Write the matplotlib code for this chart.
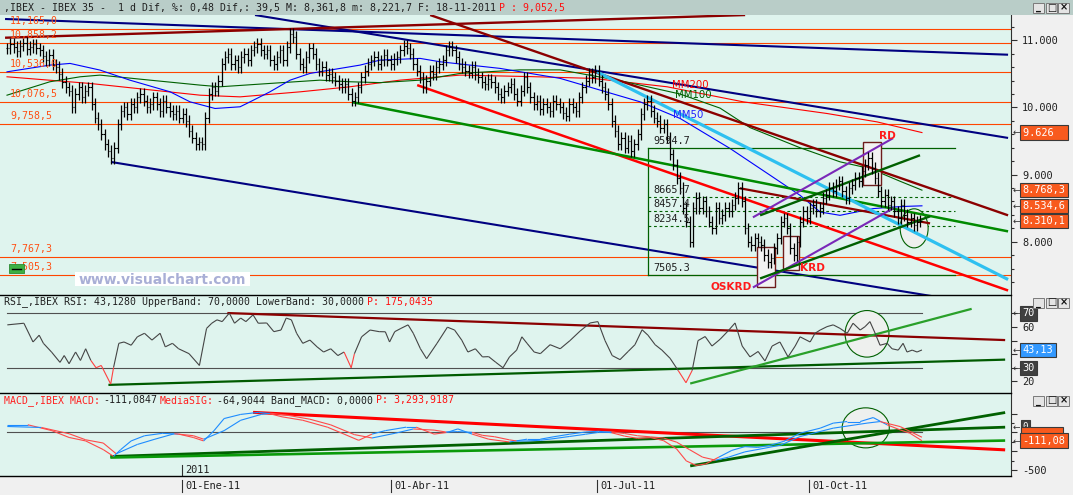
import numpy as np
import matplotlib
matplotlib.use("Agg")
import matplotlib.pyplot as plt
from matplotlib.patches import Rectangle, Ellipse
from matplotlib.lines import Line2D
from matplotlib.collections import LineCollection
from matplotlib.transforms import blended_transform_factory as blend

# ── Data (x = trading-bar index, bar 0 ~ mid-Oct 2010, last bar 18-11-2011) ──

close = [
    10880, 10950, 10900, 10840, 10920, 10960, 10870, 10900, 10940, 10880,
    10850, 10760, 10700, 10780, 10640, 10600, 10500, 10380, 10300, 10250,
    10000, 10200, 10300, 10150, 10250, 10300, 10050, 9850, 9750, 9600,
    9450, 9350, 9250, 9400, 9750, 9950, 10000, 9900, 10050, 10000,
    10150, 10200, 10100, 10000, 10050, 10150, 10050, 9950, 10100, 10000,
    9950, 9900, 9950, 9850, 9900, 9800, 9650, 9550, 9450, 9480,
    9450, 9850, 10200, 10300, 10250, 10400, 10650, 10750, 10800, 10650,
    10700, 10600, 10750, 10800, 10700, 10850, 10900, 10950, 10850, 10800,
    10850, 10700, 10650, 10750, 10850, 10700, 10900, 11100, 11050, 10800,
    10650, 10600, 10750, 10880, 10800, 10650, 10550, 10600, 10480, 10500,
    10450, 10400, 10350, 10300, 10350, 10200, 10100, 10150, 10300, 10450,
    10550, 10650, 10700, 10750, 10650, 10700, 10780, 10700, 10650, 10720,
    10750, 10850, 10920, 10880, 10800, 10650, 10550, 10450, 10300, 10400,
    10550, 10500, 10600, 10650, 10700, 10850, 10900, 10850, 10750, 10650,
    10600, 10550, 10520, 10600, 10500, 10450, 10380, 10350, 10420, 10380,
    10300, 10200, 10150, 10250, 10300, 10350, 10200, 10100, 10250, 10450,
    10300, 10150, 10050, 10100, 9980, 10050, 10000, 9950, 10100, 10050,
    10000, 9920, 9880, 10050, 10000, 9950, 10150, 10300, 10400, 10500,
    10450, 10550, 10400, 10300, 10200, 10050, 9800, 9650, 9450, 9550,
    9400, 9500, 9350, 9450, 9600, 9900, 10050, 10100, 9950, 9850,
    9800, 9700, 9750, 9550, 9300, 9150, 8950, 8800, 8500, 8300,
    8000, 8500, 8650, 8500, 8600, 8450, 8300, 8200, 8500, 8350,
    8400, 8500, 8450, 8550, 8650, 8800, 8600, 8200, 8000, 7950,
    8050, 8000, 7950, 7800, 7700, 7750, 7900, 8050, 8300, 8350,
    8200, 7900, 7800, 8000, 8300, 8450, 8350, 8500, 8550, 8450,
    8500, 8650, 8700, 8800, 8750, 8850, 8900, 8750, 8650, 8800,
    8850, 8950, 8900, 9050, 9150, 9250, 9100, 8950, 8750, 8600,
    8700, 8550, 8600, 8450, 8350, 8550, 8400, 8300, 8350, 8250, 8300, 8310.1,
]

mm50_x = [0, 13.2, 19.4, 28.6, 37.8, 50.2, 56.3, 64, 71.7, 74.8, 80.9, 87.1, 93.2, 102.5,
          108.6, 114.8, 127.1, 133.2, 142.5, 151.7, 170.2, 194.8, 207.1, 222.5, 234.8,
          244, 250.2, 256.3, 266.5, 272.6, 276.9, 281.5]
mm50 = [10531, 10631, 10656, 10557, 10407, 10233, 10084, 9985, 10010, 10084, 10233, 10407,
        10507, 10582, 10631, 10706, 10731, 10681, 10631, 10582, 10433, 10084, 9836, 9388,
        8990, 8691, 8442, 8393, 8493, 8516, 8527, 8534.6]
mm100_x = [0, 13.2, 22.5, 28.6, 44, 59.4, 65.5, 80.9, 96.3, 105.5, 114.8, 127.1, 139.4,
           157.8, 170.2, 188.6, 207.1, 219.4, 228.6, 244, 256.3, 265.5, 274.8, 281.5]
mm100 = [10183, 10383, 10457, 10482, 10407, 10333, 10308, 10358, 10407, 10383, 10370, 10407,
         10507, 10560, 10560, 10400, 10200, 9990, 9700, 9400, 9190, 9090, 8900, 8768.3]
mm200_x = [0, 25.5, 59.4, 71.7, 90.2, 105.5, 120.9, 139.4, 160.9, 180.3, 203.1, 226.5,
           252.3, 267.7, 281.5]
mm200 = [10457, 10358, 10183, 10158, 10233, 10308, 10407, 10482, 10460, 10433, 10308,
         10084, 9910, 9785, 9626]

levels = [11165, 10955, 10533, 10076.5, 9750, 7767.3, 7505.3]
level_labels = ["11,165,0", "10,858,2", "10,536,0", "10,076,5", "9,758,5", "7,767,3", "7,505,3"]

# trend lines drawn on the price panel: (i0, v0, i1, v1)
price_lines = {
    "navy_top": (-0.6, 11318, 308, 10786),
    "navy_mid": (76.3, 11377, 308, 9546),
    "navy_low": (32, 9188, 308, 7004),
    "dkred_top": (-0.6, 11039, 227.1, 11377),
    "dkred_steep": (130.2, 11377, 308, 8393),
    "dkred_short": (225.5, 8796, 284, 8273),
    "red": (126.2, 10333, 308, 7273),
    "green": (106.2, 10079, 308, 8154),
    "cyan": (181.5, 10531, 308, 7437),
    "purple_up": (229.5, 8363, 272.6, 9542),
    "dkgreen_up": (231.7, 8393, 280.9, 9288),
    "purple_lo": (229.5, 7318, 272.6, 8497),
    "dkgreen_lo": (231.7, 7452, 284, 8378),
}

fib_span = (197.2, 291.7)
fib_levels = [9390, 8665.7, 8457.4, 8234.5, 7505.3]
fib_labels = ["9594.7", "8665.7", "8457.4", "8234.5", "7505.3"]

pattern_boxes = {  # (i0, i1, low, high)
    "OSKRD": (230.7, 236.3, 7322, 7919),
    "KRD": (238.6, 243.6, 7572, 8084),
    "RD": (263.5, 268.8, 8851, 9487),
}
pattern_text = {"OSKRD": (222.8, 7332), "KRD": (247.7, 7602), "RD": (270.8, 9572)}

rsi_x = [0.1, 5.2, 8.0, 9.9, 11.2, 13.7, 16.3, 17.6, 19.1, 21.1, 22.6, 24.2, 25.8, 27.4, 29.0,
         31.9, 32.8, 34.4, 36.0, 38.2, 40.1, 42.3, 44.6, 47.1, 48.7, 50.9, 52.8, 56.0, 59.2,
         61.4, 63.0, 64.6, 66.2, 68.4, 70.0, 71.9, 73.5, 75.7, 77.3, 79.9, 82.1, 84.3, 85.9,
         87.5, 89.1, 91.0, 93.2, 95.4, 97.4, 99.6, 101.8, 103.7, 105.9, 106.9, 109.1, 111.7,
         114.5, 116.4, 117.7, 119.3, 121.2, 123.4, 125.0, 127.2, 129.1, 132.3, 135.5, 137.7,
         139.9, 141.8, 144.1, 146.3, 148.2, 150.4, 152.6, 154.6, 156.8, 158.4, 160.0, 162.2,
         164.1, 167.1, 170.2, 173.2, 176.3, 179.4, 181.8, 184, 186.2, 188.6, 191.1, 193.2,
         195.4, 197.2, 199.4, 201.5, 204, 206.5, 208.9, 210.8, 212.6, 214.8, 216.9, 219.4,
         221.8, 224, 226.2, 228.6, 231.1, 233.2, 235.4, 237.8, 240.3, 242.5, 244, 247.1,
         248.6, 250.2, 252.3, 254.2, 256.3, 258.5, 260.3, 262.5, 264, 265.5, 267.1, 268.6,
         270.8, 272.3, 274.2, 275.7, 276.9, 278.5, 280, 281.5]
rsi = [61.6, 62.8, 49, 54, 48, 41.6, 34, 39, 33, 41.6, 35.4, 44, 35.4, 30, 31.7,
       18, 30.4, 48, 49, 46.6, 52.8, 55.4, 50.4, 55.4, 45.4, 48, 44, 40.4, 31.7,
       59, 62.8, 65.3, 64, 70.3, 62.8, 66.6, 64, 69, 62.8, 63, 56.6, 57.8, 66.6,
       65.3, 55.4, 48, 50.4, 45.4, 41.6, 44, 39, 41.6, 30, 40.4, 52.8, 57.8,
       56.6, 56.5, 49, 56.6, 59, 61.6, 55.4, 44, 36.7, 48, 59.9, 57.8,
       50.4, 41.6, 44, 38, 38.2, 34, 30, 38, 43, 52.8, 48, 41.6,
       40.4, 47, 44, 50, 57, 63, 64, 50, 39, 36, 42, 47,
       58, 54, 47, 43, 37, 28, 19, 28, 50, 53, 46, 51,
       57, 63, 46, 38, 42, 35, 46, 49, 38, 46, 52.8, 49,
       55.4, 57.8, 60.3, 61.6, 59, 55.4, 62.8, 57.8, 60.3, 64, 55.4, 46.6,
       48, 44, 43, 48, 41.6, 43, 41.6, 43.13]
rsi_red_spans = [(25.6, 32.8), (104.5, 107.0), (205.5, 211.0)]

rsi_lines = {
    "dkred": (67.8, 70.3, 307.1, 50.4),
    "dkgreen": (31.2, 17.4, 307.1, 36.0),
    "green": (210.2, 18.4, 296.8, 73.4),
}

macd_x = [0.1, 6.4, 13.8, 19.1, 24.2, 29.6, 32.8, 35.0, 38.2, 42.3, 47.8, 52.8, 57.3, 60.5,
          63.7, 66.8, 71.9, 77.3, 80.5, 84.6, 91.0, 98.6, 103.7, 108.2, 112.3, 116.4, 122.8,
          125.9, 131.4, 135.5, 138.7, 143.1, 148.2, 154.6, 160.0, 164.1, 168, 173, 178, 182,
          186, 190, 194, 198, 202, 206, 209, 212, 215, 219, 223, 227, 231, 235, 239, 244,
          250.2, 254.2, 258.5, 262.5, 266.5, 270.8, 274.8, 277.8, 281.5]
macd = [101, 101, 23, -68, -114, -229, -320, -229, -114, -45, -13, -23, -68, -114,
        23, 184, 239, 266, 252, 207, 161, 69, -23, -106, -23, 23, 69,
        69, -23, 0, 46, -23, -91, -128, -91, -91, -60, -25, 5, 15,
        -5, -50, -80, -70, -110, -220, -380, -440, -420, -330, -240, -190, -200, -170, -120, -11,
        56, 123, 144, 144, 197, 100, 33, -11, -111.08]
sig_x = [0.1, 10.6, 19.1, 24.2, 29.6, 33.6, 40.1, 45.5, 51.5, 57.3, 60.5, 66.8, 71.9, 78.3,
         81, 86, 93.2, 99.6, 106.9, 112.3, 119.6, 125, 131.4, 135, 138.7, 143.1, 146.3, 150,
         154.6, 156.8, 160, 164.1, 168, 173, 178, 182, 186, 190, 194, 198, 202, 206, 210,
         214, 218, 222, 227, 232, 238, 244, 254.2, 264.6, 268.6, 274.8, 281.5]
sig = [78, 65, -18, -99, -142, -285, -161, -91, -18, -44, -91, 23, 161, 240,
       255, 230, 175, 100, -30, -75, -10, 45, 30, 5, 10, 0, -40, -58,
       -100, -115, -114, -105, -85, -55, -25, 0, 5, -15, -45, -60, -75, -130, -230,
       -330, -370, -330, -260, -220, -170, -56, 56, 123, 144, 77, -64.9]

macd_lines = {
    "red": (75.7, 266, 307.1, -233),
    "dkgreen": (31.8, -321, 307.1, 69),
    "green": (31.8, -335, 307.1, -109),
    "dkgreen2": (210.2, -447, 307.1, 264),
}

date_ticks = [53.8, 118.1, 181.5, 246.9]
date_labels = ["01-Ene-11", "01-Abr-11", "01-Jul-11", "01-Oct-11"]

# ── Layout / style ────────────────────────────────────────────────────────────

W, H = 1073, 495
BG = "#dff4ee"
GREY = "#f0f0f0"
BAR = "#b9cdc8"
MONO = "DejaVu Sans Mono"
FS = 7.1

NAVY, DKRED, RED = "#000080", "#8b0000", "#ff0000"
GREEN, DKGREEN, CYAN, PURPLE = "#008a00", "#006000", "#2ec0f0", "#7a28b8"
ORANGE = "#ff4500"

line_style = {
    "navy_top": (NAVY, 1.5), "navy_mid": (NAVY, 1.5), "navy_low": (NAVY, 1.5),
    "dkred_top": (DKRED, 1.7), "dkred_steep": (DKRED, 1.7), "dkred_short": (DKRED, 1.6),
    "red": (RED, 1.8), "green": (GREEN, 1.8), "cyan": (CYAN, 2.3),
    "purple_up": (PURPLE, 1.5), "dkgreen_up": (DKGREEN, 1.7),
    "purple_lo": (PURPLE, 1.5), "dkgreen_lo": (DKGREEN, 1.7),
}

plt.rcParams["font.family"] = "DejaVu Sans"
fig = plt.figure(figsize=(W / 100, H / 100), dpi=100, facecolor=GREY)
renderer = fig.canvas.get_renderer()


def rect(x0, y0, x1, y1):
    return [x0 / W, 1 - y1 / H, (x1 - x0) / W, (y1 - y0) / H]


def ftext(x, y, s, **kw):
    return fig.text(x / W, 1 - y / H, s, **kw)


def fpatch(x0, y0, x1, y1, **kw):
    fig.add_artist(Rectangle((x0 / W, 1 - y1 / H), (x1 - x0) / W, (y1 - y0) / H,
                             transform=fig.transFigure, **kw))


def fline(x0, y0, x1, y1, **kw):
    fig.add_artist(Line2D([x0 / W, x1 / W], [1 - y0 / H, 1 - y1 / H],
                          transform=fig.transFigure, **kw))


def seg_text(x, y, parts):
    # coloured pieces of one header line, laid out by their measured width
    for s, c in parts:
        t = ftext(x, y, s, color=c, family=MONO, fontsize=FS, va="center")
        x += t.get_window_extent(renderer).width + 3


def buttons(y):
    for x0, g in [(1033, "_"), (1046, "□"), (1058, "×")]:
        fpatch(x0, y, x0 + 11, y + 10, fc="#e4e4e4", ec="#7a7a7a", lw=0.7)
        ftext(x0 + 5.5, y + 4.5, g, ha="center", va="center", fontsize=7, color="#111111",
              weight="bold")


XL = (-2.154, 308.9)


def setup(ax, ylim):
    ax.set_facecolor(BG)
    ax.set_xlim(*XL)
    ax.set_ylim(*ylim)
    ax.set_xticks([])
    for s in ["top", "bottom", "left"]:
        ax.spines[s].set_visible(False)
    ax.spines["right"].set_color("#303030")
    ax.yaxis.tick_right()


def right_ticks(ax, major, labels, minor):
    ax.set_yticks(major)
    ax.set_yticklabels(labels, family=MONO)
    ax.set_yticks(minor, minor=True)
    ax.tick_params(axis="y", which="major", direction="out", length=4, width=0.8,
                   color="#303030", labelsize=7.4, labelcolor="#202020", pad=4)
    ax.tick_params(axis="y", which="minor", direction="out", length=2.5, width=0.8,
                   color="#303030")


def value_box(ax, y, txt, fc, width=7, fs=7.4, arrow=True):
    tr = blend(ax.transAxes, ax.transData)
    if arrow:
        ax.text(1.0015, y, "←", transform=tr, ha="left", va="center", fontsize=6.5,
                color="#303030", clip_on=False)
    ax.text(1.0115, y, txt.ljust(width), transform=tr, ha="left", va="center", family=MONO,
            fontsize=fs, color="white", clip_on=False, zorder=10,
            bbox=dict(boxstyle="square,pad=0.22", fc=fc, ec="#3a3a3a", lw=0.8))


# ── Price panel ───────────────────────────────────────────────────────────────

ax = fig.add_axes(rect(0, 15, 1011, 294.5))
setup(ax, (7213.4, 11377.6))
right_ticks(ax, [8000, 9000, 10000, 11000], ["8.000", "9.000", "10.000", "11.000"],
            np.arange(7400, 11400, 200))

for v, lab in zip(levels, level_labels):
    ax.axhline(v, color=ORANGE, lw=0.8, zorder=1)
    ax.text(0.9, v + 118, lab, color="#ff5014", family=MONO, fontsize=FS, va="center",
            zorder=6)

for xs, ys, c in [(mm200_x, mm200, RED), (mm100_x, mm100, DKGREEN), (mm50_x, mm50, "#0000ff")]:
    ax.plot(xs, ys, color=c, lw=0.8, zorder=1.5)
ax.text(204.6, 10332, "MM200", color=RED, fontsize=7.3, va="center", zorder=6)
ax.text(205.5, 10183, "MM100", color=DKGREEN, fontsize=7.3, va="center", zorder=6)
ax.text(205.0, 9885, "MM50", color="#2020ff", fontsize=7.3, va="center", zorder=6)

for name, (i0, v0, i1, v1) in price_lines.items():
    c, lw = line_style[name]
    ax.plot([i0, i1], [v0, v1], color=c, lw=lw, solid_capstyle="butt",
            zorder=2.2 if c == NAVY else 3)

# fibonacci box
f0, f1 = fib_span
ax.plot([f0, f1], [fib_levels[0]] * 2, color=DKGREEN, lw=0.9, zorder=2.4)
ax.plot([f0, f1], [fib_levels[-1]] * 2, color=DKGREEN, lw=0.9, zorder=2.4)
ax.plot([f0, f0], [fib_levels[-1], fib_levels[0]], color=DKGREEN, lw=0.9, zorder=2.4)
for v in fib_levels[1:-1]:
    ax.plot([f0, f1], [v, v], color=DKGREEN, lw=0.8, ls=(0, (2.5, 2.5)), zorder=2.4)
for v, lab in zip(fib_levels, fib_labels):
    ax.text(f0 + 1.6, v + 108, lab, family=MONO, fontsize=7.4, color="#202020",
            va="center", zorder=6)

for name, (i0, i1, lo, hi) in pattern_boxes.items():
    ax.add_patch(Rectangle((i0, lo), i1 - i0, hi - lo, fc="#f2f2f2", ec="#6e1c1c",
                           lw=1.0, zorder=2.5))
    tx, ty = pattern_text[name]
    ax.text(tx, ty, name, color="#ff1a1a", fontsize=7.6, weight="bold", ha="center",
            va="center", zorder=7)
ax.add_patch(Ellipse((279.1, 8199), 8.6, 582, fc="#eef0ee", ec=DKGREEN, lw=0.8, zorder=2.5))

# OHLC bars
c_arr = np.array(close, dtype=float)
idx = np.arange(len(c_arr))
o_arr = np.concatenate([[c_arr[0]], c_arr[:-1]])
WICK = 85
hi_arr = np.maximum(o_arr, c_arr) + WICK
lo_arr = np.minimum(o_arr, c_arr) - WICK
ax.vlines(idx, lo_arr, hi_arr, color="black", lw=0.9, zorder=3.5)
ax.hlines(o_arr, idx - 0.45, idx, color="black", lw=0.8, zorder=3.5)
ax.hlines(c_arr, idx, idx + 0.45, color="black", lw=0.8, zorder=3.5)

value_box(ax, 9626, "9.626", "#f85a1e")
value_box(ax, 8768.3, "8.768,3", "#f85a1e")
value_box(ax, 8534.6, "8.534,6", "#f85a1e")
value_box(ax, 8310.1, "8.310,1", "#f85a1e")

# ── RSI panel ─────────────────────────────────────────────────────────────────

axr = fig.add_axes(rect(0, 294.5, 1011, 392.8))
setup(axr, (11.57, 83.96))
right_ticks(axr, [20, 30, 40, 50, 60, 70], ["20", "", "", "", "60", ""], [])
for lvl in (70, 30):
    axr.plot([0, 281.5], [lvl, lvl], color="#505050", lw=0.8, zorder=1)
for name, (i0, v0, i1, v1) in rsi_lines.items():
    c = {"dkred": DKRED, "dkgreen": "#005a00", "green": "#2aa02a"}[name]
    axr.plot([i0, i1], [v0, v1], color=c, lw=1.6, solid_capstyle="butt", zorder=3)
axr.add_patch(Ellipse((264.6, 55), 13.5, 34.3, fc="#eef0ee", ec=DKGREEN, lw=0.8, zorder=2))
rx, ry = np.array(rsi_x), np.array(rsi)
pts = np.column_stack([rx, ry]).reshape(-1, 1, 2)
segs = np.concatenate([pts[:-1], pts[1:]], axis=1)
mid = (rx[:-1] + rx[1:]) / 2
cols = ["#ff4040" if any(a <= m <= b for a, b in rsi_red_spans) else "#454545" for m in mid]
axr.add_collection(LineCollection(segs, colors=cols, lw=0.8, zorder=4))
value_box(axr, 70, "70", "#404040", width=2)
value_box(axr, 43.13, "43,13", "#3399ff", width=5)
value_box(axr, 30, "30", "#404040", width=2)

# ── MACD panel ────────────────────────────────────────────────────────────────

axm = fig.add_axes(rect(0, 392.8, 1011, 476))
setup(axm, (-581, 526.7))
right_ticks(axm, [-500, -250, 0, 250], ["-500", "", "", ""], [-375, -125, 125])
axm.plot([0, 281.5], [0, 0], color="#505050", lw=0.8, zorder=1)
for name, (i0, v0, i1, v1) in macd_lines.items():
    c, lw = {"red": (RED, 2.2), "dkgreen": (DKGREEN, 2.0), "green": ("#0a9a0a", 1.9),
             "dkgreen2": (DKGREEN, 2.0)}[name]
    axm.plot([i0, i1], [v0, v1], color=c, lw=lw, solid_capstyle="butt", zorder=3)
axm.add_patch(Ellipse((264.2, 60), 14.5, 533, fc="#eef0ee", ec=DKGREEN, lw=0.8, zorder=2))


def macd_segments(xs, ys, ox, oy, above_is_macd):
    xs, ys = np.array(xs, float), np.array(ys, float)
    p = np.column_stack([xs, ys]).reshape(-1, 1, 2)
    s = np.concatenate([p[:-1], p[1:]], axis=1)
    mx = (xs[:-1] + xs[1:]) / 2
    my = (ys[:-1] + ys[1:]) / 2
    other = np.interp(mx, ox, oy)
    up = my >= other if above_is_macd else my <= other
    return LineCollection(s, colors=["#1e8cff" if u else "#ff4a4a" for u in up],
                          lw=0.8, zorder=4)


axm.add_collection(macd_segments(macd_x, macd, sig_x, sig, True))
axm.add_collection(macd_segments(sig_x, sig, macd_x, macd, False))
# stacked last-value boxes (they partly cover each other, as on screen)
value_box(axm, 75, "0", "#404040", width=1, fs=6.6)
value_box(axm, -20, "", "#f85a1e", width=7, fs=6.6, arrow=False)
value_box(axm, -111.08, "-111,08", "#f85a1e", width=7)

# date axis
trx = blend(axm.transData, axm.transAxes)
for x, lab in zip(date_ticks, date_labels):
    axm.plot([x, x], [-0.05, -0.19], color="#303030", lw=0.8, transform=trx, clip_on=False)
    axm.text(x + 1.0, -0.125, lab, transform=trx, family=MONO, fontsize=7.4,
             color="#202020", va="center", ha="left", clip_on=False)
axm.plot([date_ticks[0]] * 2, [0.0, 0.13], color="#303030", lw=0.8, transform=trx)
axm.text(date_ticks[0] + 1.0, 0.075, "2011", transform=trx, family=MONO, fontsize=7.4,
         color="#202020", va="center", ha="left")

# ── Frame, titles, decorations ───────────────────────────────────────────────

fpatch(0, 0, W, 15, fc=BAR, ec="none")
for y in (294.5, 392.8, 476):
    fline(0, y, 1011, y, color="black", lw=1.0)

seg_text(4, 8, [(",IBEX - IBEX 35 -  1 d Dif, %: 0,48 Dif,: 39,5 M: 8,361,8 m: 8,221,7 "
                 "F: 18-11-2011", "#202020"), ("P : 9,052,5", "#ff1010")])
seg_text(4, 302, [("RSI_,IBEX RSI: 43,1280 UpperBand: 70,0000 LowerBand: 30,0000", "#202020"),
                  ("P: 175,0435", "#ff1010")])
seg_text(4, 400.5, [("MACD_,IBEX MACD:", "#ff2020"), ("-111,0847", "#202020"),
                    ("MediaSIG:", "#ff2020"), ("-64,9044 Band_MACD: 0,0000", "#202020"),
                    ("P: 3,293,9187", "#ff1010")])
buttons(3)
buttons(298)
buttons(396)

fpatch(75, 272, 250, 286, fc="white", ec="none", zorder=8)
ftext(162.5, 279.5, "www.visualchart.com", ha="center", va="center", fontsize=10,
      weight="bold", color="#a9afd6", zorder=9)
fpatch(9, 264, 24, 273, fc="#3cb043", ec="#2a8a30", lw=0.6, zorder=8)
fline(12, 268.5, 21, 268.5, color="black", lw=1.0, zorder=9)

fig.savefig("out.png", dpi=100, facecolor=GREY)
